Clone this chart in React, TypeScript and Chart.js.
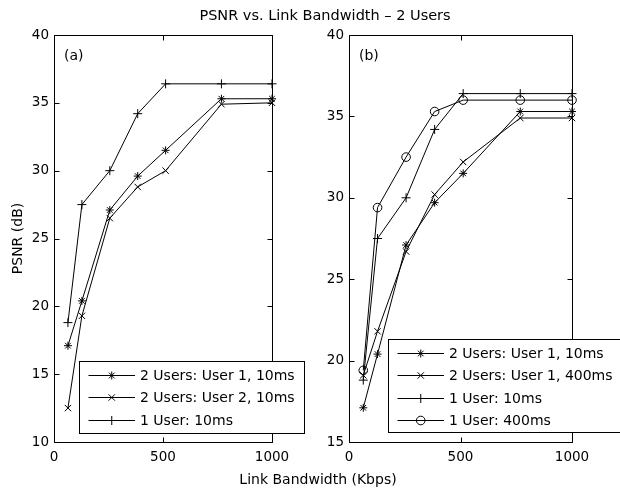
import React, { useEffect, useRef } from 'react';
import { Chart, registerables } from 'chart.js';
import { drawPoint } from 'chart.js/helpers';

Chart.register(...registerables);

// ---------------- data ----------------
const bandwidthKbps = [64, 128, 256, 384, 512, 768, 1000];
// in the original several lines run a few pixels past the right axis edge
const lineEndKbps = 1024;

const xTickValues = [0, 500, 1000];
const yTicksA = [10, 15, 20, 25, 30, 35, 40];
const yTicksB = [15, 20, 25, 30, 35, 40];

// panel (a)
const aTwoUsersUser1_10ms = [17.1, 20.4, 27.1, 29.6, 31.5, 35.3, 35.3];
const aTwoUsersUser2_10ms = [12.5, 19.3, 26.5, 28.8, 30.0, 34.9, 35.0];
const aOneUser_10ms = [18.8, 27.5, 30.0, 34.2, 36.4, 36.4, 36.4];

// panel (b)
const bTwoUsersUser1_10ms = [17.1, 20.4, 27.1, 29.7, 31.5, 35.3, 35.3];
const bTwoUsersUser1_400ms = [19.1, 21.8, 26.7, 30.2, 32.2, 34.9, 34.9];
const bOneUser_10ms = [18.8, 27.5, 30.0, 34.2, 36.4, 36.4, 36.4];
const bOneUser_400ms = [19.4, 29.4, 32.5, 35.3, 36.0, 36.0, 36.0];

const titleText = 'PSNR vs. Link Bandwidth \u2013 2 Users';
const xLabelText = 'Link Bandwidth (Kbps)';
const yLabelText = 'PSNR (dB)';

// ---------------- styles / layout ----------------
const FONT = '"DejaVu Sans", "Liberation Sans", Arial, sans-serif';
const W = 620;
const H = 488;
const TICK_LEN = 5;

const markerRadius: Record<string, number> = {
  star: 4,
  crossRot: 4.5,
  cross: 4.5,
  circle: 4.3,
};

type Series = { label: string; values: number[]; marker: string; extend: boolean };
type Panel = {
  tag: string;
  yTicks: number[];
  series: Series[];
  padding: { left: number; right: number; top: number; bottom: number };
  legend: { x: number; y: number; w: number; h: number };
};

const panelA: Panel = {
  tag: '(a)',
  yTicks: yTicksA,
  series: [
    { label: '2 Users: User 1, 10ms', values: aTwoUsersUser1_10ms, marker: 'star', extend: false },
    { label: '2 Users: User 2, 10ms', values: aTwoUsersUser2_10ms, marker: 'crossRot', extend: false },
    { label: '1 User: 10ms', values: aOneUser_10ms, marker: 'cross', extend: true },
  ],
  padding: { left: 4, right: W - 272, top: 35, bottom: H - 442 - 20 },
  legend: { x: 79, y: 361, w: 225, h: 72 },
};

const panelB: Panel = {
  tag: '(b)',
  yTicks: yTicksB,
  series: [
    { label: '2 Users: User 1, 10ms', values: bTwoUsersUser1_10ms, marker: 'star', extend: true },
    { label: '2 Users: User 1, 400ms', values: bTwoUsersUser1_400ms, marker: 'crossRot', extend: true },
    { label: '1 User: 10ms', values: bOneUser_10ms, marker: 'cross', extend: true },
    { label: '1 User: 400ms', values: bOneUser_400ms, marker: 'circle', extend: true },
  ],
  padding: { left: 349 - 50, right: W - 572, top: 35, bottom: H - 442 - 20 },
  legend: { x: 388, y: 339, w: 240, h: 93 },
};

// ---------------- plugins ----------------
const framePlugin = {
  id: 'matlabFrame',
  afterDatasetsDraw(chart: any) {
    const { ctx, chartArea: a, scales } = chart;
    const L = Math.round(a.left) + 0.5;
    const R = Math.round(a.right) + 0.5;
    const T = Math.round(a.top) + 0.5;
    const B = Math.round(a.bottom) + 0.5;
    ctx.save();
    ctx.strokeStyle = '#000';
    ctx.lineWidth = 1;
    ctx.beginPath();
    ctx.rect(L, T, R - L, B - T);
    scales.x.ticks.forEach((t: any) => {
      const px = Math.round(scales.x.getPixelForValue(t.value)) + 0.5;
      ctx.moveTo(px, B);
      ctx.lineTo(px, B - TICK_LEN);
      ctx.moveTo(px, T);
      ctx.lineTo(px, T + TICK_LEN);
    });
    scales.y.ticks.forEach((t: any) => {
      const py = Math.round(scales.y.getPixelForValue(t.value)) + 0.5;
      ctx.moveTo(L, py);
      ctx.lineTo(L + TICK_LEN, py);
      ctx.moveTo(R, py);
      ctx.lineTo(R - TICK_LEN, py);
    });
    ctx.stroke();
    ctx.restore();
  },
};

const legendPlugin = {
  id: 'matlabLegend',
  afterDraw(chart: any, _args: any, opts: any) {
    const { ctx, chartArea: a } = chart;
    const box = opts.box;
    const tag = opts.tag;
    ctx.save();
    // panel tag
    ctx.fillStyle = '#000';
    ctx.font = `14px ${FONT}`;
    ctx.textBaseline = 'middle';
    ctx.textAlign = 'left';
    ctx.fillText(tag, a.left + 10, a.top + 21);

    // legend box
    ctx.fillStyle = '#fff';
    ctx.strokeStyle = '#000';
    ctx.lineWidth = 1;
    const bx = Math.round(box.x) + 0.5;
    const by = Math.round(box.y) + 0.5;
    ctx.fillRect(bx, by, box.w, box.h);
    ctx.strokeRect(bx, by, box.w, box.h);

    chart.data.datasets.forEach((ds: any, i: number) => {
      const cy = Math.round(box.y + 14 + i * 22.3) + 0.5;
      const x0 = box.x + 9.5;
      const x1 = box.x + 56;
      ctx.strokeStyle = '#000';
      ctx.lineWidth = 1;
      ctx.beginPath();
      ctx.moveTo(x0, cy);
      ctx.lineTo(x1, cy);
      ctx.stroke();
      ctx.fillStyle = 'rgba(0,0,0,0)';
      drawPoint(ctx, {
        pointStyle: ds.pointStyle,
        radius: markerRadius[ds.pointStyle],
        rotation: 0,
        borderWidth: 1,
      } as any, (x0 + x1) / 2, cy);
      ctx.fillStyle = '#000';
      ctx.font = `14px ${FONT}`;
      ctx.textBaseline = 'middle';
      ctx.textAlign = 'left';
      ctx.fillText(ds.label, box.x + 61, cy + 0.5);
    });
    ctx.restore();
  },
};

const figureTextPlugin = {
  id: 'figureText',
  afterDraw(chart: any) {
    const { ctx } = chart;
    ctx.save();
    ctx.fillStyle = '#000';
    ctx.textBaseline = 'alphabetic';
    ctx.textAlign = 'center';
    ctx.font = `14.5px ${FONT}`;
    ctx.fillText(titleText, 325, 19.5);
    ctx.font = `14px ${FONT}`;
    ctx.fillText(xLabelText, 318, 484);
    ctx.translate(21.5, 238.5);
    ctx.rotate(-Math.PI / 2);
    ctx.fillText(yLabelText, 0, 0);
    ctx.restore();
  },
};

// ---------------- config ----------------
function buildConfig(panel: Panel, withFigureText: boolean): any {
  const xMax = xTickValues[xTickValues.length - 1];
  const datasets = panel.series.map((s) => {
    const pts = bandwidthKbps.map((x, i) => ({ x, y: s.values[i] }));
    if (s.extend) pts.push({ x: lineEndKbps, y: s.values[s.values.length - 1] });
    const r = markerRadius[s.marker];
    return {
      label: s.label,
      data: pts,
      borderColor: '#000',
      borderWidth: 1,
      pointStyle: s.marker,
      pointRadius: (c: any) => (c.raw && c.raw.x > xMax ? 0 : r),
      pointBorderColor: '#000',
      pointBackgroundColor: 'rgba(0,0,0,0)',
      pointBorderWidth: 1,
      tension: 0,
      clip: { left: 0, top: 0, right: 8, bottom: 0 },
    };
  });
  const tickFont = { family: FONT, size: 13.5 };
  const plain = (v: any) => String(v);
  return {
    type: 'line',
    data: { datasets },
    options: {
      responsive: false,
      animation: false,
      events: [],
      layout: { padding: panel.padding },
      plugins: {
        legend: { display: false },
        tooltip: { enabled: false },
        title: { display: false },
        matlabLegend: { box: panel.legend, tag: panel.tag },
      },
      scales: {
        x: {
          type: 'linear',
          min: xTickValues[0],
          max: xMax,
          afterBuildTicks: (scale: any) => {
            scale.ticks = xTickValues.map((v) => ({ value: v }));
          },
          afterFit: (scale: any) => {
            scale.height = 20;
          },
          ticks: { font: tickFont, color: '#000', padding: 7, maxRotation: 0, autoSkip: false, callback: plain },
          grid: { display: false, drawTicks: false },
          border: { display: false },
        },
        y: {
          type: 'linear',
          min: panel.yTicks[0],
          max: panel.yTicks[panel.yTicks.length - 1],
          afterBuildTicks: (scale: any) => {
            scale.ticks = panel.yTicks.map((v) => ({ value: v }));
          },
          afterFit: (scale: any) => {
            scale.width = 50;
          },
          ticks: { font: tickFont, color: '#000', padding: 5, autoSkip: false, callback: plain },
          grid: { display: false, drawTicks: false },
          border: { display: false },
        },
      },
    },
    plugins: withFigureText ? [framePlugin, legendPlugin, figureTextPlugin] : [framePlugin, legendPlugin],
  };
}

export default function App() {
  const leftRef = useRef<HTMLCanvasElement>(null);
  const rightRef = useRef<HTMLCanvasElement>(null);

  useEffect(() => {
    const charts: Chart[] = [];
    if (leftRef.current) charts.push(new Chart(leftRef.current, buildConfig(panelA, true)));
    if (rightRef.current) charts.push(new Chart(rightRef.current, buildConfig(panelB, false)));
    return () => charts.forEach((c) => c.destroy());
  }, []);

  return (
    <div style={{ position: 'fixed', left: 0, top: 0, width: W, height: H, background: '#fff', overflow: 'hidden' }}>
      <canvas ref={leftRef} width={W} height={H} style={{ position: 'absolute', left: 0, top: 0 }} />
      <canvas ref={rightRef} width={W} height={H} style={{ position: 'absolute', left: 0, top: 0 }} />
    </div>
  );
}
